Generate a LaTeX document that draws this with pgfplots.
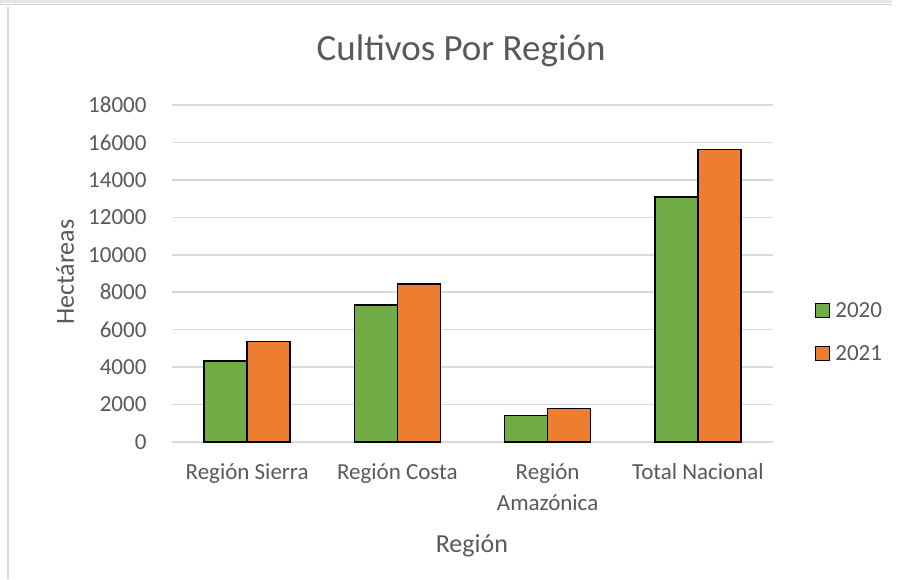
\documentclass[border=0pt]{standalone}
\usepackage{pgfplots}
\pgfplotsset{compat=1.18}
\usepackage{fontspec}
\setmainfont{Carlito}
\definecolor{cgreen}{HTML}{70AD47}
\definecolor{corange}{HTML}{ED7D31}
\definecolor{ctext}{HTML}{595959}
\definecolor{cgrid}{HTML}{D9D9D9}
\begin{document}
\begin{tikzpicture}
\useasboundingbox (0pt,0pt) rectangle (905pt,579pt);
\fill[white] (0pt,0pt) rectangle (905pt,579pt);
\draw[gray!20, line width=3pt] (0pt,577.5pt) -- (892pt,577.5pt);
\draw[gray!35, line width=1pt] (0pt,574pt) -- (892pt,574pt);
\draw[gray!30, line width=1.5pt] (8pt,0pt) -- (8pt,572pt);
\begin{axis}[
  at={(172pt,137pt)}, anchor=south west,
  scale only axis, width=601pt, height=337pt,
  ybar=0pt, bar width=43pt,
  xmin=-0.5, xmax=3.5, ymin=0, ymax=18000,
  xtick={0,1,2,3},
  xticklabels={Región Sierra, Región Costa, {Región\\Amazónica}, Total Nacional},
  ytick={0,2000,...,18000},
  scaled y ticks=false,
  /pgf/number format/1000 sep={},
  /pgf/number format/assume math mode=true,
  ymajorgrids, grid style={cgrid, line width=1.5pt},
  axis line style={draw=none},
  major tick length=0pt,
  tick label style={font=\fontsize{23}{31}\selectfont, text=ctext},
  xticklabel style={align=center, yshift=-18pt},
  yticklabel style={xshift=-22pt},
  title={Cultivos Por Región},
  title style={at={(0.481,1.142)}, anchor=center, font=\fontsize{37}{40}\selectfont, text=ctext},
  xlabel={Región},
  xlabel style={at={(0.499,-0.308)}, anchor=center, font=\fontsize{26}{30}\selectfont, text=ctext},
  ylabel={Hectáreas},
  ylabel style={at={(-0.178,0.504)}, anchor=center, font=\fontsize{26}{30}\selectfont, text=ctext},
  legend style={at={(1.065,0.326)}, anchor=west, draw=none, fill=none,
    font=\fontsize{23}{28}\selectfont, text=ctext, row sep=23pt,
    legend cell align=left},
  legend image code/.code={\draw[#1, draw=black, line width=1pt] (0pt,-7pt) rectangle (14pt,7pt); \path (17pt,0pt);},
]
\addplot[fill=cgreen, draw=black, line width=1.3pt] coordinates {(0,4320) (1,7310) (2,1410) (3,13080)};
\addplot[fill=corange, draw=black, line width=1.3pt] coordinates {(0,5350) (1,8440) (2,1780) (3,15620)};
\legend{2020,2021}
\end{axis}
\end{tikzpicture}
\end{document}
